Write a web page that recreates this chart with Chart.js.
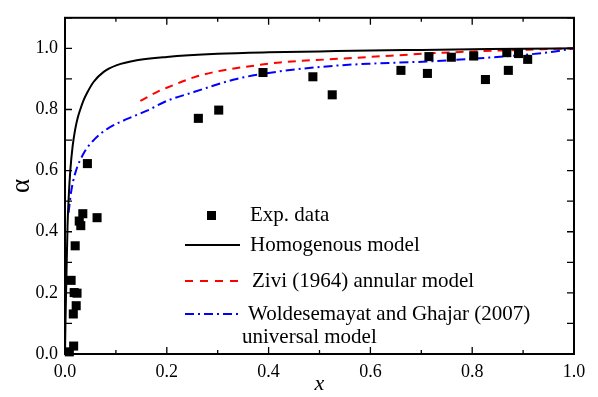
<!DOCTYPE html>
<html>
<head>
<meta charset="utf-8">
<script src="https://cdn.jsdelivr.net/npm/chart.js@4/dist/chart.umd.min.js"></script>
<style>
  html, body { margin: 0; padding: 0; background: #fff; }
  #wrap { width: 598px; height: 397px; position: relative; }
</style>
</head>
<body>
<div id="wrap"><canvas id="chart"></canvas></div>
<script>
// ===== data =====
const expX = [0.0085, 0.017, 0.012, 0.018, 0.0236, 0.022, 0.0163, 0.020, 0.028, 0.031, 0.035, 0.063, 0.044,
              0.262, 0.302, 0.389, 0.487, 0.525, 0.660, 0.715, 0.712, 0.759, 0.803, 0.826, 0.868, 0.871, 0.891, 0.909];
const expY = [0.007, 0.026, 0.241, 0.201, 0.199, 0.158, 0.131, 0.354, 0.435, 0.420, 0.459, 0.446, 0.623,
              0.771, 0.798, 0.921, 0.907, 0.848, 0.928, 0.973, 0.918, 0.971, 0.975, 0.898, 0.986, 0.928, 0.983, 0.964];

const homX = [0, 0.001, 0.0025, 0.005, 0.0075, 0.0104, 0.015, 0.020, 0.025, 0.030, 0.036, 0.043, 0.056, 0.076, 0.102, 0.141, 0.2, 0.3, 0.4, 0.5, 0.6, 0.7, 0.8, 0.9, 1.0];
const homY = [0, 0.11, 0.23, 0.42, 0.52, 0.600, 0.68, 0.735, 0.773, 0.800, 0.828, 0.853, 0.890, 0.923, 0.945, 0.961, 0.972, 0.982, 0.987, 0.990, 0.993, 0.995, 0.997, 0.999, 1.0];

const ziviX = [0.148, 0.184, 0.2, 0.253, 0.3, 0.357, 0.423, 0.528, 0.6, 0.711, 0.8, 0.875, 1.0];
const ziviY = [0.828, 0.860, 0.871, 0.905, 0.925, 0.940, 0.954, 0.965, 0.972, 0.983, 0.990, 0.994, 1.0];

const wgX = [0.007, 0.012, 0.020, 0.0365, 0.056, 0.0825, 0.122, 0.161, 0.2, 0.253, 0.337, 0.423, 0.528, 0.6, 0.711, 0.8, 0.875, 0.95, 1.0];
const wgY = [0.462, 0.530, 0.591, 0.656, 0.699, 0.736, 0.769, 0.796, 0.828, 0.857, 0.900, 0.925, 0.943, 0.950, 0.957, 0.966, 0.975, 0.987, 1.0];

const legendLabels = ['Exp. data', 'Homogenous model', 'Zivi (1964) annular model',
                      'Woldesemayat and Ghajar (2007)', 'universal model'];

const serif = '"Liberation Serif", "DejaVu Serif", serif';
const pts = (xs, ys) => xs.map((x, i) => ({ x, y: ys[i] }));

// ===== frame + inward ticks =====
const frame = {
  id: 'frame',
  beforeDatasetsDraw(chart) {
    const { ctx, chartArea: a, scales: { x, y } } = chart;
    ctx.save();
    ctx.strokeStyle = '#000';
    ctx.lineWidth = 1.3;
    ctx.beginPath();
    for (let i = 0; i <= 10; i++) {
      const px = x.getPixelForValue(i / 10);
      const len = i % 2 === 0 ? 7 : 4;
      ctx.moveTo(px, a.bottom); ctx.lineTo(px, a.bottom - len);
      ctx.moveTo(px, a.top); ctx.lineTo(px, a.top + len);
    }
    for (let i = 0; i <= 11; i++) {
      const py = y.getPixelForValue(i / 10);
      ctx.moveTo(a.left, py); ctx.lineTo(a.left + 7, py);
      ctx.moveTo(a.right, py); ctx.lineTo(a.right - 7, py);
    }
    ctx.stroke();
    ctx.lineWidth = 2;
    ctx.strokeRect(a.left, a.top, a.right - a.left, a.bottom - a.top);
    ctx.restore();
  }
};

// ===== legend inside plot =====
const legendBox = {
  id: 'legendBox',
  afterDraw(chart) {
    const { ctx } = chart;
    ctx.save();
    ctx.font = '21px ' + serif;
    ctx.fillStyle = '#000';
    ctx.textBaseline = 'middle';
    // square
    ctx.fillRect(207, 211, 9, 9);
    ctx.fillText(legendLabels[0], 250, 215);
    // lines
    const line = (y, color, dash, w) => {
      ctx.beginPath();
      ctx.strokeStyle = color; ctx.lineWidth = w; ctx.setLineDash(dash);
      ctx.moveTo(185, y); ctx.lineTo(240, y); ctx.stroke();
    };
    line(245, '#000', [], 2);
    ctx.fillText(legendLabels[1], 250, 245);
    line(281, '#ff0000', [8, 7], 2);
    ctx.fillText(legendLabels[2], 252, 281);
    line(314, '#0000ff', [9, 4, 2, 4], 2);
    ctx.fillText(legendLabels[3], 248, 314);
    ctx.fillText(legendLabels[4], 242, 337);
    ctx.restore();
  }
};

new Chart(document.getElementById('chart'), {
  type: 'scatter',
  data: {
    datasets: [
      { label: 'Exp. data', data: pts(expX, expY), pointStyle: 'rect', pointRadius: 6.4, pointHoverRadius: 6.4,
        backgroundColor: '#000', borderColor: '#000', borderWidth: 0, clip: false },
      { label: 'Homogenous model', type: 'line', data: pts(homX, homY), borderColor: '#000', borderWidth: 2,
        pointRadius: 0, cubicInterpolationMode: 'monotone', fill: false },
      { label: 'Zivi (1964) annular model', type: 'line', data: pts(ziviX, ziviY), borderColor: '#ff0000', borderWidth: 2,
        borderDash: [8, 6], pointRadius: 0, cubicInterpolationMode: 'monotone', fill: false },
      { label: 'Woldesemayat and Ghajar (2007) universal model', type: 'line', data: pts(wgX, wgY), borderColor: '#0000ff',
        borderWidth: 2, borderDash: [9, 4, 2, 4], pointRadius: 0, cubicInterpolationMode: 'monotone', fill: false }
    ]
  },
  options: {
    responsive: true,
    maintainAspectRatio: false,
    animation: false,
    layout: { padding: { top: 13, right: 24, left: 0, bottom: 0 } },
    plugins: { legend: { display: false }, tooltip: { enabled: false } },
    scales: {
      x: {
        type: 'linear', min: 0, max: 1,
        grid: { display: false, drawTicks: false },
        border: { display: false },
        ticks: { stepSize: 0.2, padding: 7, color: '#000', font: { family: serif, size: 18 },
                 callback: v => v.toFixed(1) },
        title: { display: true, text: 'x', color: '#000', padding: { top: 0, bottom: 0 },
                 font: { family: serif, size: 22, style: 'italic' } },
        afterFit: s => { s.height = 43; }
      },
      y: {
        type: 'linear', min: 0, max: 1.1,
        grid: { display: false, drawTicks: false },
        border: { display: false },
        afterBuildTicks: s => { s.ticks = s.ticks.filter(t => t.value <= 1.0001); },
        ticks: { stepSize: 0.2, padding: 7, color: '#000', font: { family: serif, size: 18 },
                 callback: v => v.toFixed(1) },
        title: { display: true, text: 'α', color: '#000', padding: { top: 6, bottom: 0 },
                 font: { family: serif, size: 27 } },
        afterFit: s => { s.width = 65; }
      }
    }
  },
  plugins: [frame, legendBox]
});
</script>
</body>
</html>
